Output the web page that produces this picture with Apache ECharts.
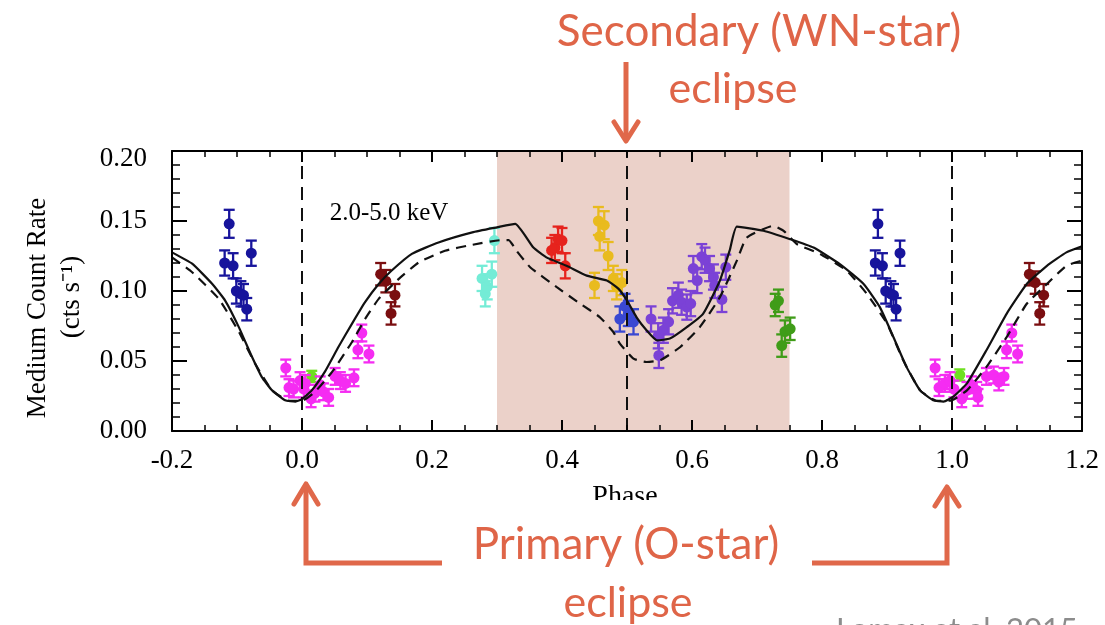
<!DOCTYPE html>
<html>
<head>
<meta charset="utf-8">
<script src="https://cdn.jsdelivr.net/npm/echarts@6/dist/echarts.min.js"></script>
<style>
html,body{margin:0;padding:0;background:#fff;}
#chart{width:1105px;height:625px;}
</style>
</head>
<body>
<div id="chart"></div>
<script>
// ---- Data (phase, count rate, error) ----
const xTicks = [-0.2, 0.0, 0.2, 0.4, 0.6, 0.8, 1.0, 1.2];
const yTicks = [0.00, 0.05, 0.10, 0.15, 0.20];

const modelSolid = [
  [-0.200,0.1276],[-0.169,0.1195],[-0.138,0.105],[-0.118,0.093],[-0.097,0.074],[-0.077,0.053],
  [-0.062,0.0387],[-0.046,0.029],[-0.026,0.022],[-0.010,0.021],[0.000,0.0228],[0.015,0.029],
  [0.036,0.043],[0.056,0.060],[0.077,0.0767],[0.097,0.092],[0.118,0.105],[0.138,0.1146],
  [0.169,0.1265],[0.210,0.1347],[0.262,0.1419],[0.300,0.1455],[0.328,0.148],[0.356,0.131],
  [0.376,0.124],[0.407,0.118],[0.438,0.111],[0.469,0.1075],[0.487,0.1015],[0.500,0.0932],
  [0.515,0.081],[0.530,0.072],[0.546,0.0648],[0.566,0.066],[0.592,0.0742],[0.617,0.0837],
  [0.643,0.1075],[0.658,0.129],[0.669,0.146],[0.710,0.143],[0.751,0.137],[0.787,0.131],
  [0.828,0.119],[0.864,0.105],[0.889,0.0885],[0.910,0.067],[0.930,0.0458],[0.951,0.029],
  [0.971,0.022],[0.987,0.021],[1.002,0.0245],[1.023,0.034],[1.053,0.0577],[1.084,0.0837],
  [1.115,0.105],[1.146,0.118],[1.176,0.1276],[1.200,0.132]
];
const modelDashed = [
  [-0.200,0.124],[-0.169,0.1134],[-0.128,0.0944],[-0.097,0.0707],[-0.072,0.048],[-0.046,0.029],
  [-0.020,0.0216],[0.000,0.0216],[0.020,0.028],[0.046,0.042],[0.077,0.0636],[0.097,0.080],
  [0.118,0.0944],[0.149,0.1087],[0.180,0.1205],[0.220,0.1288],[0.262,0.133],[0.308,0.1364],
  [0.318,0.1364],[0.330,0.1288],[0.351,0.117],[0.392,0.1027],[0.428,0.0909],[0.458,0.0814],
  [0.479,0.0707],[0.489,0.0624],[0.510,0.0517],[0.530,0.0493],[0.551,0.0505],[0.582,0.060],
  [0.612,0.0742],[0.643,0.0956],[0.669,0.1217],[0.684,0.138],[0.725,0.1466],[0.741,0.143],
  [0.761,0.1336],[0.797,0.1265],[0.838,0.1146],[0.869,0.098],[0.900,0.0767],[0.925,0.0505],
  [0.951,0.029],[0.976,0.0216],[0.997,0.0216],[1.023,0.029],[1.053,0.0458],[1.084,0.067],
  [1.115,0.0909],[1.146,0.105],[1.176,0.118],[1.200,0.1217]
];

const navyEarly = [[-0.112,0.148,0.010],[-0.119,0.120,0.009],[-0.106,0.118,0.009],[-0.078,0.127,0.009],
  [-0.101,0.100,0.009],[-0.094,0.098,0.009],[-0.090,0.097,0.008],[-0.085,0.087,0.008]];
const navyLate = [[0.886,0.148,0.010],[0.882,0.120,0.009],[0.893,0.118,0.009],[0.920,0.127,0.009],
  [0.898,0.100,0.009],[0.906,0.098,0.009],[0.910,0.097,0.008],[0.914,0.087,0.008]];
const maroonEarly = [[0.121,0.112,0.008],[0.129,0.107,0.008],[0.143,0.097,0.008],[0.137,0.084,0.008]];
const maroonLate = [[1.119,0.112,0.008],[1.128,0.106,0.008],[1.141,0.097,0.008],[1.135,0.084,0.008]];
const magentaEarly = [[-0.025,0.045,0.006],[-0.020,0.031,0.006],[-0.013,0.030,0.006],[-0.003,0.036,0.006],
  [0.003,0.030,0.006],[0.005,0.034,0.006],[0.014,0.023,0.006],[0.020,0.027,0.006],[0.028,0.033,0.006],
  [0.033,0.028,0.006],[0.041,0.024,0.006],[0.051,0.039,0.006],[0.059,0.036,0.006],[0.067,0.034,0.006],
  [0.080,0.038,0.006],[0.086,0.058,0.006],[0.092,0.070,0.006],[0.103,0.055,0.006]];
const magentaLate = [[0.974,0.045,0.006],[0.980,0.031,0.006],[0.989,0.034,0.006],[0.997,0.036,0.006],
  [1.003,0.030,0.006],[1.015,0.023,0.006],[1.023,0.029,0.006],[1.030,0.033,0.006],[1.038,0.029,0.006],
  [1.040,0.024,0.006],[1.053,0.039,0.006],[1.064,0.040,0.006],[1.072,0.035,0.006],[1.080,0.039,0.006],
  [1.084,0.058,0.006],[1.092,0.070,0.006],[1.101,0.055,0.006]];
const limeEarly = [[0.015,0.039,0.004]];
const limeLate = [[1.012,0.040,0.004]];
const aqua = [[0.277,0.109,0.009],[0.282,0.098,0.009],[0.285,0.103,0.009],[0.292,0.112,0.009],[0.296,0.136,0.009]];
const red = [[0.384,0.129,0.009],[0.389,0.131,0.009],[0.394,0.137,0.009],[0.400,0.136,0.009],[0.405,0.118,0.009]];
const gold = [[0.456,0.150,0.010],[0.465,0.147,0.010],[0.458,0.139,0.010],[0.471,0.125,0.010],
  [0.450,0.104,0.009],[0.479,0.109,0.009],[0.484,0.103,0.009],[0.492,0.106,0.009]];
const royal = [[0.489,0.080,0.009],[0.497,0.089,0.009],[0.502,0.084,0.009],[0.510,0.078,0.009]];
const purple = [[0.537,0.080,0.009],[0.548,0.068,0.009],[0.549,0.054,0.009],[0.556,0.072,0.009],
  [0.564,0.078,0.009],[0.570,0.093,0.009],[0.579,0.097,0.009],[0.584,0.092,0.009],[0.592,0.0885,0.009],
  [0.598,0.091,0.009],[0.602,0.116,0.009],[0.608,0.1075,0.009],[0.615,0.1245,0.009],[0.620,0.122,0.009],
  [0.627,0.116,0.009],[0.633,0.110,0.009],[0.635,0.104,0.009],[0.646,0.094,0.009],[0.652,0.117,0.009]];
const green = [[0.728,0.090,0.008],[0.733,0.093,0.008],[0.743,0.071,0.008],[0.738,0.061,0.008],[0.751,0.073,0.008]];

const eclipseLines = [0.0, 0.5, 1.0];
const shadedPhase = [0.3, 0.75];

// ---- Rendering ----
const serif = 'Liberation Serif';
const coral = '#df6548';
const arrowColor = '#e0684a';

function errSeries(name, data, color, z) {
  return {
    name, type: 'custom', data, z: z || 4,
    renderItem: function (params, api) {
      const x = api.value(0), y = api.value(1), e = api.value(2);
      const p = api.coord([x, y]);
      const hi = api.coord([x, y + e]);
      const lo = api.coord([x, y - e]);
      const cap = 5.5;
      const st = { stroke: color, lineWidth: 2.3 };
      return {
        type: 'group',
        children: [
          { type: 'line', shape: { x1: p[0], y1: hi[1], x2: p[0], y2: lo[1] }, style: st },
          { type: 'line', shape: { x1: p[0] - cap, y1: hi[1], x2: p[0] + cap, y2: hi[1] }, style: st },
          { type: 'line', shape: { x1: p[0] - cap, y1: lo[1], x2: p[0] + cap, y2: lo[1] }, style: st },
          { type: 'circle', shape: { cx: p[0], cy: p[1], r: 5.5 }, style: { fill: color } }
        ]
      };
    }
  };
}

const chart = echarts.init(document.getElementById('chart'), null, { renderer: 'canvas' });

const axisCommon = {
  z: 10,
  axisLine: { show: true, onZero: false, lineStyle: { color: '#000', width: 2 } },
  splitLine: { show: false },
};

const option = {
  backgroundColor: '#fff',
  animation: false,
  grid: { left: 172, right: 23, top: 151, bottom: 194, containLabel: false },
  xAxis: [
    Object.assign({}, axisCommon, {
      type: 'value', position: 'bottom', min: xTicks[0], max: xTicks[xTicks.length - 1], interval: 0.2,
      axisTick: { show: true, inside: true, length: 11, lineStyle: { color: '#000', width: 2 } },
      minorTick: { show: true, splitNumber: 4, length: 6, lineStyle: { color: '#000', width: 1.5 } },
      axisLabel: { show: true, margin: 16, color: '#000', fontFamily: serif, fontSize: 27,
        formatter: v => v.toFixed(1) },
    }),
    Object.assign({}, axisCommon, {
      type: 'value', position: 'top', min: xTicks[0], max: xTicks[xTicks.length - 1], interval: 0.2,
      axisTick: { show: true, inside: true, length: 11, lineStyle: { color: '#000', width: 2 } },
      minorTick: { show: true, splitNumber: 4, length: 6, lineStyle: { color: '#000', width: 1.5 } },
      axisLabel: { show: false },
    })
  ],
  yAxis: [
    Object.assign({}, axisCommon, {
      type: 'value', position: 'left', min: yTicks[0], max: yTicks[yTicks.length - 1], interval: 0.05,
      axisTick: { show: true, inside: true, length: 15, lineStyle: { color: '#000', width: 2 } },
      minorTick: { show: true, splitNumber: 5, length: 8, lineStyle: { color: '#000', width: 1.5 } },
      axisLabel: { show: true, margin: 25, color: '#000', fontFamily: serif, fontSize: 27,
        formatter: v => (Math.abs(v - 0.2) < 1e-9 ? '{top|' + v.toFixed(2) + '}' : v.toFixed(2)),
        rich: { top: { fontFamily: serif, fontSize: 27, color: '#000', padding: [16, 0, 0, 0] } } },
    }),
    Object.assign({}, axisCommon, {
      type: 'value', position: 'right', min: yTicks[0], max: yTicks[yTicks.length - 1], interval: 0.05,
      axisTick: { show: true, inside: true, length: 15, lineStyle: { color: '#000', width: 2 } },
      minorTick: { show: true, splitNumber: 5, length: 8, lineStyle: { color: '#000', width: 1.5 } },
      axisLabel: { show: false },
    })
  ],
  series: [
    {
      name: 'shade', type: 'line', data: [], z: 1, silent: true,
      markArea: { silent: true, itemStyle: { color: '#ebd1c9' },
        data: [[{ xAxis: shadedPhase[0] }, { xAxis: shadedPhase[1] }]] }
    },
    {
      name: 'eclipses', type: 'line', data: [], z: 3, silent: true,
      markLine: { silent: true, symbol: ['none', 'none'], label: { show: false },
        lineStyle: { color: '#111', width: 2, type: [13, 8] },
        data: eclipseLines.map(v => ({ xAxis: v })) }
    },
    errSeries('navyEarly', navyEarly, '#17149c'),
    errSeries('navyLate', navyLate, '#17149c'),
    errSeries('maroonEarly', maroonEarly, '#7a0e10'),
    errSeries('maroonLate', maroonLate, '#7a0e10'),
    errSeries('limeEarly', limeEarly, '#6fe021'),
    errSeries('limeLate', limeLate, '#6fe021'),
    errSeries('magentaEarly', magentaEarly, '#f52cf2'),
    errSeries('magentaLate', magentaLate, '#f52cf2'),
    errSeries('aqua', aqua, '#74ecd6'),
    errSeries('red', red, '#e6231d'),
    errSeries('gold', gold, '#e9bb1e'),
    errSeries('royal', royal, '#3a48d2'),
    errSeries('purple', purple, '#7b42d6'),
    errSeries('green', green, '#3f9c18'),
    {
      name: 'model', type: 'line', data: modelSolid, z: 6, showSymbol: false, smooth: 0.15,
      lineStyle: { color: '#111', width: 2.2 }
    },
    {
      name: 'modelDashed', type: 'line', data: modelDashed, z: 6, showSymbol: false, smooth: 0.15,
      lineStyle: { color: '#111', width: 2.2, type: [10, 7] }
    }
  ],
  graphic: [
    { type: 'text', x: 38, y: 308, rotation: Math.PI / 2, z: 50,
      style: { text: 'Medium Count Rate', font: '27px "Liberation Serif"', fill: '#000', align: 'center', verticalAlign: 'middle' } },
    { type: 'text', x: 72, y: 297, rotation: Math.PI / 2, z: 50,
      style: { text: '(cts s\u207B\u00B9)', font: '27px "Liberation Serif"', fill: '#000', align: 'center', verticalAlign: 'middle' } },
    { type: 'text', x: 389, y: 213, z: 50,
      style: { text: '2.0-5.0 keV', font: '25px "Liberation Serif"', fill: '#000', align: 'center', verticalAlign: 'middle' } },
    { type: 'text', x: 625, y: 497, z: 50,
      style: { text: 'Phase', font: '28px "Liberation Serif"', fill: '#000', align: 'center', verticalAlign: 'middle' } },
    { type: 'rect', shape: { x: 442, y: 500, width: 370, height: 125 }, z: 60, style: { fill: '#fff' } },
    // annotations
    { type: 'text', x: 759, y: 32, z: 70,
      style: { text: 'Secondary (WN-star)', font: '44px "Lato"', fill: coral, align: 'center', verticalAlign: 'middle' } },
    { type: 'text', x: 733, y: 89, z: 70,
      style: { text: 'eclipse', font: '43px "Lato"', fill: coral, align: 'center', verticalAlign: 'middle' } },
    { type: 'text', x: 626, y: 545, z: 70,
      style: { text: 'Primary (O-star)', font: '44px "Lato"', fill: coral, align: 'center', verticalAlign: 'middle' } },
    { type: 'text', x: 628, y: 603, z: 70,
      style: { text: 'eclipse', font: '43px "Lato"', fill: coral, align: 'center', verticalAlign: 'middle' } },
    { type: 'text', x: 836, y: 645, z: 70,
      style: { text: 'Lomax et al. 2015', font: '31px "Lato"', fill: '#8c8c8c', align: 'left', verticalAlign: 'bottom' } },
    // arrows
    { type: 'polyline', z: 70, shape: { points: [[626, 62], [626, 141]] }, style: { stroke: arrowColor, lineWidth: 5, fill: null } },
    { type: 'polyline', z: 70, shape: { points: [[614, 122], [626, 141], [638, 122]] }, style: { stroke: arrowColor, lineWidth: 5, fill: null, lineJoin: 'round', lineCap: 'round' } },
    { type: 'polyline', z: 70, shape: { points: [[442, 563], [306, 563], [306, 484]] }, style: { stroke: arrowColor, lineWidth: 5, fill: null } },
    { type: 'polyline', z: 70, shape: { points: [[294, 504], [306, 484], [318, 504]] }, style: { stroke: arrowColor, lineWidth: 5, fill: null, lineJoin: 'round', lineCap: 'round' } },
    { type: 'polyline', z: 70, shape: { points: [[812, 563], [947, 563], [947, 487]] }, style: { stroke: arrowColor, lineWidth: 5, fill: null } },
    { type: 'polyline', z: 70, shape: { points: [[935, 506], [947, 487], [959, 506]] }, style: { stroke: arrowColor, lineWidth: 5, fill: null, lineJoin: 'round', lineCap: 'round' } }
  ]
};
chart.setOption(option);
</script>
</body>
</html>
